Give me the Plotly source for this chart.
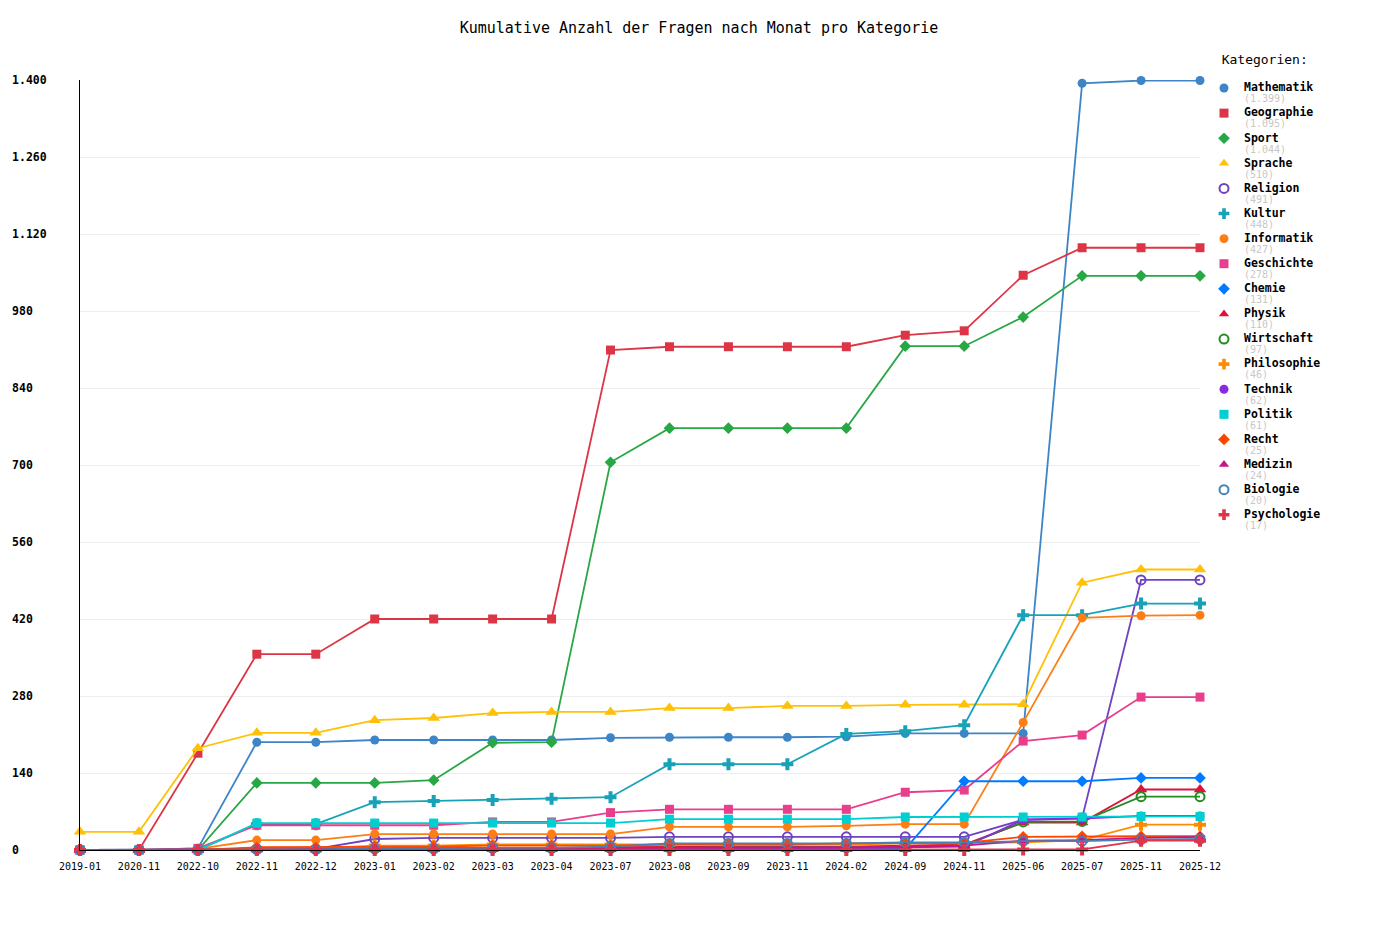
import plotly.graph_objects as go

months = ["2019-01", "2020-11", "2022-10", "2022-11", "2022-12", "2023-01", "2023-02",
          "2023-03", "2023-04", "2023-07", "2023-08", "2023-09", "2023-11", "2024-02",
          "2024-09", "2024-11", "2025-06", "2025-07", "2025-11", "2025-12"]

categories = ["Mathematik", "Geographie", "Sport", "Sprache", "Religion", "Kultur",
              "Informatik", "Geschichte", "Chemie", "Physik", "Wirtschaft", "Philosophie",
              "Technik", "Politik", "Recht", "Medizin", "Biologie", "Psychologie"]

totals = [1399, 1095, 1044, 510, 491, 448, 427, 278, 131, 110, 97, 46, 62, 61, 25, 24, 20, 17]

mathematik = [0, 0, 3, 196, 196, 200, 200, 200, 200, 204, 205, 205, 205, 206, 212, 212, 212, 1394, 1399, 1399]
geographie = [0, 0, 176, 356, 356, 420, 420, 420, 420, 909, 915, 915, 915, 915, 936, 944, 1045, 1095, 1095, 1095]
sport = [0, 0, 0, 122, 122, 122, 127, 195, 196, 705, 767, 767, 767, 767, 916, 916, 969, 1044, 1044, 1044]
sprache = [33, 33, 185, 213, 213, 236, 240, 249, 251, 251, 258, 258, 262, 262, 264, 264, 265, 486, 510, 510]
religion = [0, 0, 0, 2, 2, 20, 22, 22, 22, 22, 24, 24, 24, 24, 24, 24, 55, 58, 491, 491]
kultur = [0, 0, 0, 47, 47, 87, 89, 91, 93, 96, 156, 156, 156, 211, 216, 227, 427, 427, 448, 448]
informatik = [0, 0, 2, 18, 18, 29, 29, 29, 29, 29, 42, 42, 42, 44, 47, 47, 232, 422, 426, 427]
geschichte = [0, 0, 3, 45, 45, 45, 45, 51, 51, 68, 74, 74, 74, 74, 105, 109, 198, 209, 278, 278]
chemie = [0, 0, 0, 1, 1, 2, 2, 2, 2, 2, 2, 2, 2, 2, 2, 125, 125, 125, 131, 131]
physik = [0, 0, 0, 3, 3, 4, 4, 4, 4, 5, 6, 6, 6, 6, 8, 10, 50, 50, 110, 110]
wirtschaft = [0, 0, 0, 1, 1, 2, 2, 3, 3, 3, 4, 4, 4, 5, 6, 8, 51, 52, 97, 97]
philosophie = [0, 0, 0, 3, 3, 8, 8, 10, 10, 10, 10, 10, 10, 10, 12, 12, 14, 18, 46, 46]
technik = [0, 0, 0, 1, 1, 2, 2, 2, 2, 2, 3, 3, 3, 3, 5, 6, 55, 57, 62, 62]
politik = [0, 0, 0, 49, 49, 49, 49, 49, 49, 49, 56, 56, 56, 56, 60, 60, 60, 60, 61, 61]
recht = [0, 0, 0, 5, 5, 6, 6, 8, 8, 8, 10, 10, 10, 12, 12, 13, 24, 25, 25, 25]
medizin = [0, 0, 0, 1, 1, 2, 2, 3, 3, 3, 4, 4, 4, 5, 6, 8, 17, 18, 22, 24]
biologie = [0, 0, 0, 1, 1, 3, 3, 4, 4, 6, 12, 12, 12, 12, 14, 14, 16, 16, 19, 20]
psychologie = [0, 0, 0, 0, 0, 0, 0, 0, 0, 0, 0, 0, 0, 0, 0, 0, 1, 1, 17, 17]

series = [mathematik, geographie, sport, sprache, religion, kultur, informatik, geschichte,
          chemie, physik, wirtschaft, philosophie, technik, politik, recht, medizin,
          biologie, psychologie]

colors = ["#3d85c6", "#dc3545", "#28a745", "#ffc107", "#6f42c1", "#17a2b8", "#fd7e14",
          "#e83e8c", "#007bff", "#dc143c", "#228b22", "#ff8c00", "#8a2be2", "#00ced1",
          "#ff4500", "#c71585", "#4682b4", "#e0344a"]

symbols = ["circle", "square", "diamond", "triangle-up", "circle-open", "cross",
           "circle", "square", "diamond", "triangle-up", "circle-open", "cross",
           "circle", "square", "diamond", "triangle-up", "circle-open", "cross"]

FONT = "DejaVu Sans Mono"

fig = go.Figure()

for name, vals, col, sym in zip(categories, series, colors, symbols):
    open_sym = sym.endswith("-open")
    size = 11 if sym == "triangle-up" else (10 if sym == "cross" else 9)
    fig.add_trace(go.Scatter(
        x=months, y=vals, mode="lines+markers", name=name, showlegend=False,
        line=dict(color=col, width=1.8),
        marker=dict(symbol=sym, size=size, color=col,
                    line=dict(width=2 if open_sym else 0, color=col)),
        cliponaxis=False,
    ))

for name, tot, col, sym in zip(categories, totals, colors, symbols):
    open_sym = sym.endswith("-open")
    label = (f"<span style='font-size:11.5px'><b>{name}</b></span><br>"
             f"<span style='font-size:10px;color:#c8c8c8'>({tot:,})</span>").replace(",", ".")
    fig.add_trace(go.Scatter(
        x=[None], y=[None], mode="markers", name=label, showlegend=True,
        marker=dict(symbol=sym, size=9, color=col,
                    line=dict(width=2 if open_sym else 0, color=col)),
    ))

yticks = list(range(0, 1401, 140))
ytext = [f"{v:,}".replace(",", ".").ljust(5, "\u00a0") for v in yticks]

fig.update_layout(
    width=1400, height=950,
    paper_bgcolor="white", plot_bgcolor="white",
    margin=dict(l=72, r=208, t=72, b=108),
    font=dict(family=FONT, color="#000"),
    title=dict(text="Kumulative Anzahl der Fragen nach Monat pro Kategorie",
               x=(699 - 8) / 1400, xanchor="center", y=1 - 20 / 950, yanchor="middle",
               font=dict(family=FONT, size=15, color="#000")),
    legend=dict(
        title=dict(text="<span style='font-size:13px'>\u00a0\u00a0Kategorien:</span><br>\u00a0",
                   font=dict(family=FONT, size=9.6)),
        x=1.0 + 4 / 1120, xanchor="left", y=1.048 - 8 / 770, yanchor="top",
        font=dict(family=FONT, size=8.5, color="#000"),
        tracegroupgap=0, valign="top", itemwidth=30, maxheight=900,
        bgcolor="rgba(0,0,0,0)",
    ),
    xaxis=dict(
        type="category", range=[0, len(months) - 1], automargin=False,
        showgrid=False, showline=True, linecolor="#000", linewidth=1,
        ticks="", ticklabelstandoff=7, tickfont=dict(family=FONT, size=10, color="#000"),
        zeroline=False,
    ),
    yaxis=dict(
        range=[0, 1400], tickvals=yticks, ticktext=ytext, automargin=False,
        showgrid=True, gridcolor="#eeeeee", gridwidth=1,
        showline=True, linecolor="#000", linewidth=1, zeroline=False,
        ticks="", ticklabelstandoff=30,
        tickfont=dict(family=FONT, size=11.5, color="#000", weight="bold"),
    ),
)

fig.write_html("out.html")
